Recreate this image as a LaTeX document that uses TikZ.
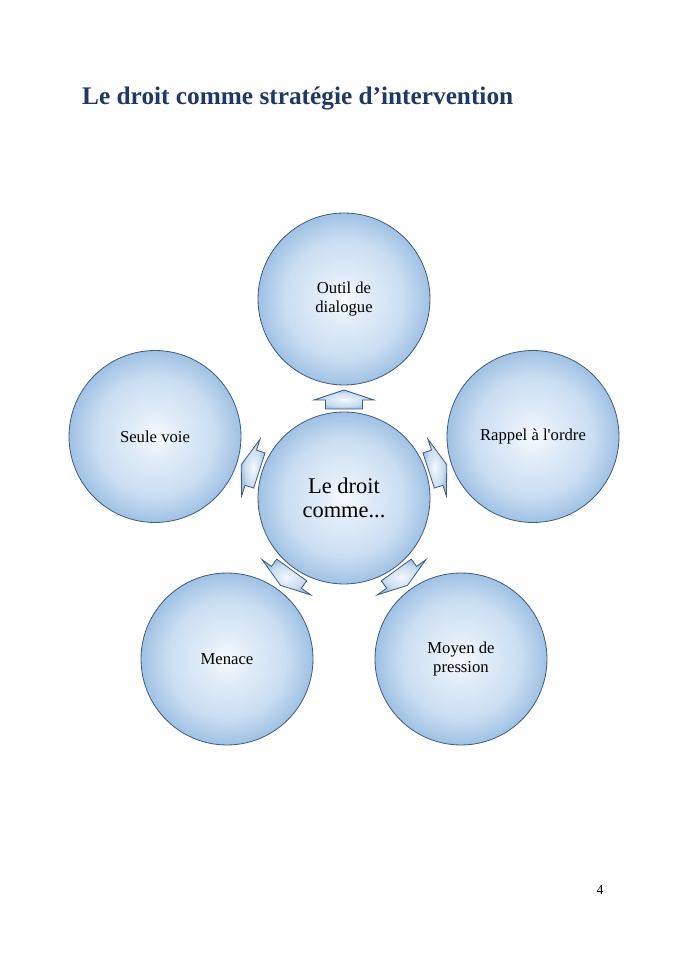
\documentclass[tikz,border=0pt]{standalone}
\usepackage{fontspec}
\setmainfont{Liberation Serif}
\usetikzlibrary{calc}
\definecolor{titleblue}{RGB}{31,56,100}
\definecolor{edgeblue}{RGB}{62,92,124}
\definecolor{bubbleout}{RGB}{160,193,228}
\definecolor{bubblemid}{RGB}{203,222,242}
\definecolor{bubblein}{RGB}{246,250,254}
\pgfdeclareradialshading{bubble}{\pgfpoint{0bp}{0bp}}{color(0bp)=(bubblein); color(7bp)=(bubblein!50!bubblemid); color(17bp)=(bubblemid); color(25bp)=(bubbleout); color(50bp)=(bubbleout)}
\tikzset{
  ball/.style={circle, draw=edgeblue, line width=0.7pt, shading=bubble, minimum size=149.5pt, inner sep=0pt, align=center, font=\fontsize{14.5}{15.8}\selectfont},
  centerball/.style={ball, font=\fontsize{19.5}{20.5}\selectfont},
  blockarrow/.style={draw=edgeblue, line width=0.7pt, shading=bubble, line join=miter}
}
\newcommand\radarrow[1]{%
  \begin{scope}[shift={(c0.center)}, rotate=#1]
    \path[blockarrow] (89,-18.5) -- (98,-18.5) -- (98,-30) -- (108,0) -- (98,30) -- (98,18.5) -- (89,18.5) -- cycle;
  \end{scope}}
\begin{document}
\begin{tikzpicture}[x=0.8694pt, y=0.8694pt]
  \useasboundingbox (0,0) rectangle (685,968);
  \fill[white] (0,0) rectangle (685,968);
  \node[anchor=base west, inner sep=0pt, text=titleblue, font=\fontsize{22}{26}\selectfont\bfseries] (title) at (82,863) {Le droit comme stratégie d’intervention};
  \node[centerball] (c0) at (344,470) {Le droit\\comme...};
  \node[ball] (c1) at (344,669) {Outil de\\dialogue};
  \node[ball] (c2) at (533,531.5) {Rappel à l\textquotesingle ordre};
  \node[ball] (c3) at (461,309) {Moyen de\\pression};
  \node[ball] (c4) at (227,309) {Menace};
  \node[ball] (c5) at (155,531.5) {Seule voie};
  \radarrow{90}
  \radarrow{18}
  \radarrow{-54}
  \radarrow{-126}
  \radarrow{162}
  \node[anchor=base, inner sep=0pt, font=\fontsize{12}{14}\selectfont] (page) at (600,73) {4};
\end{tikzpicture}
\end{document}
